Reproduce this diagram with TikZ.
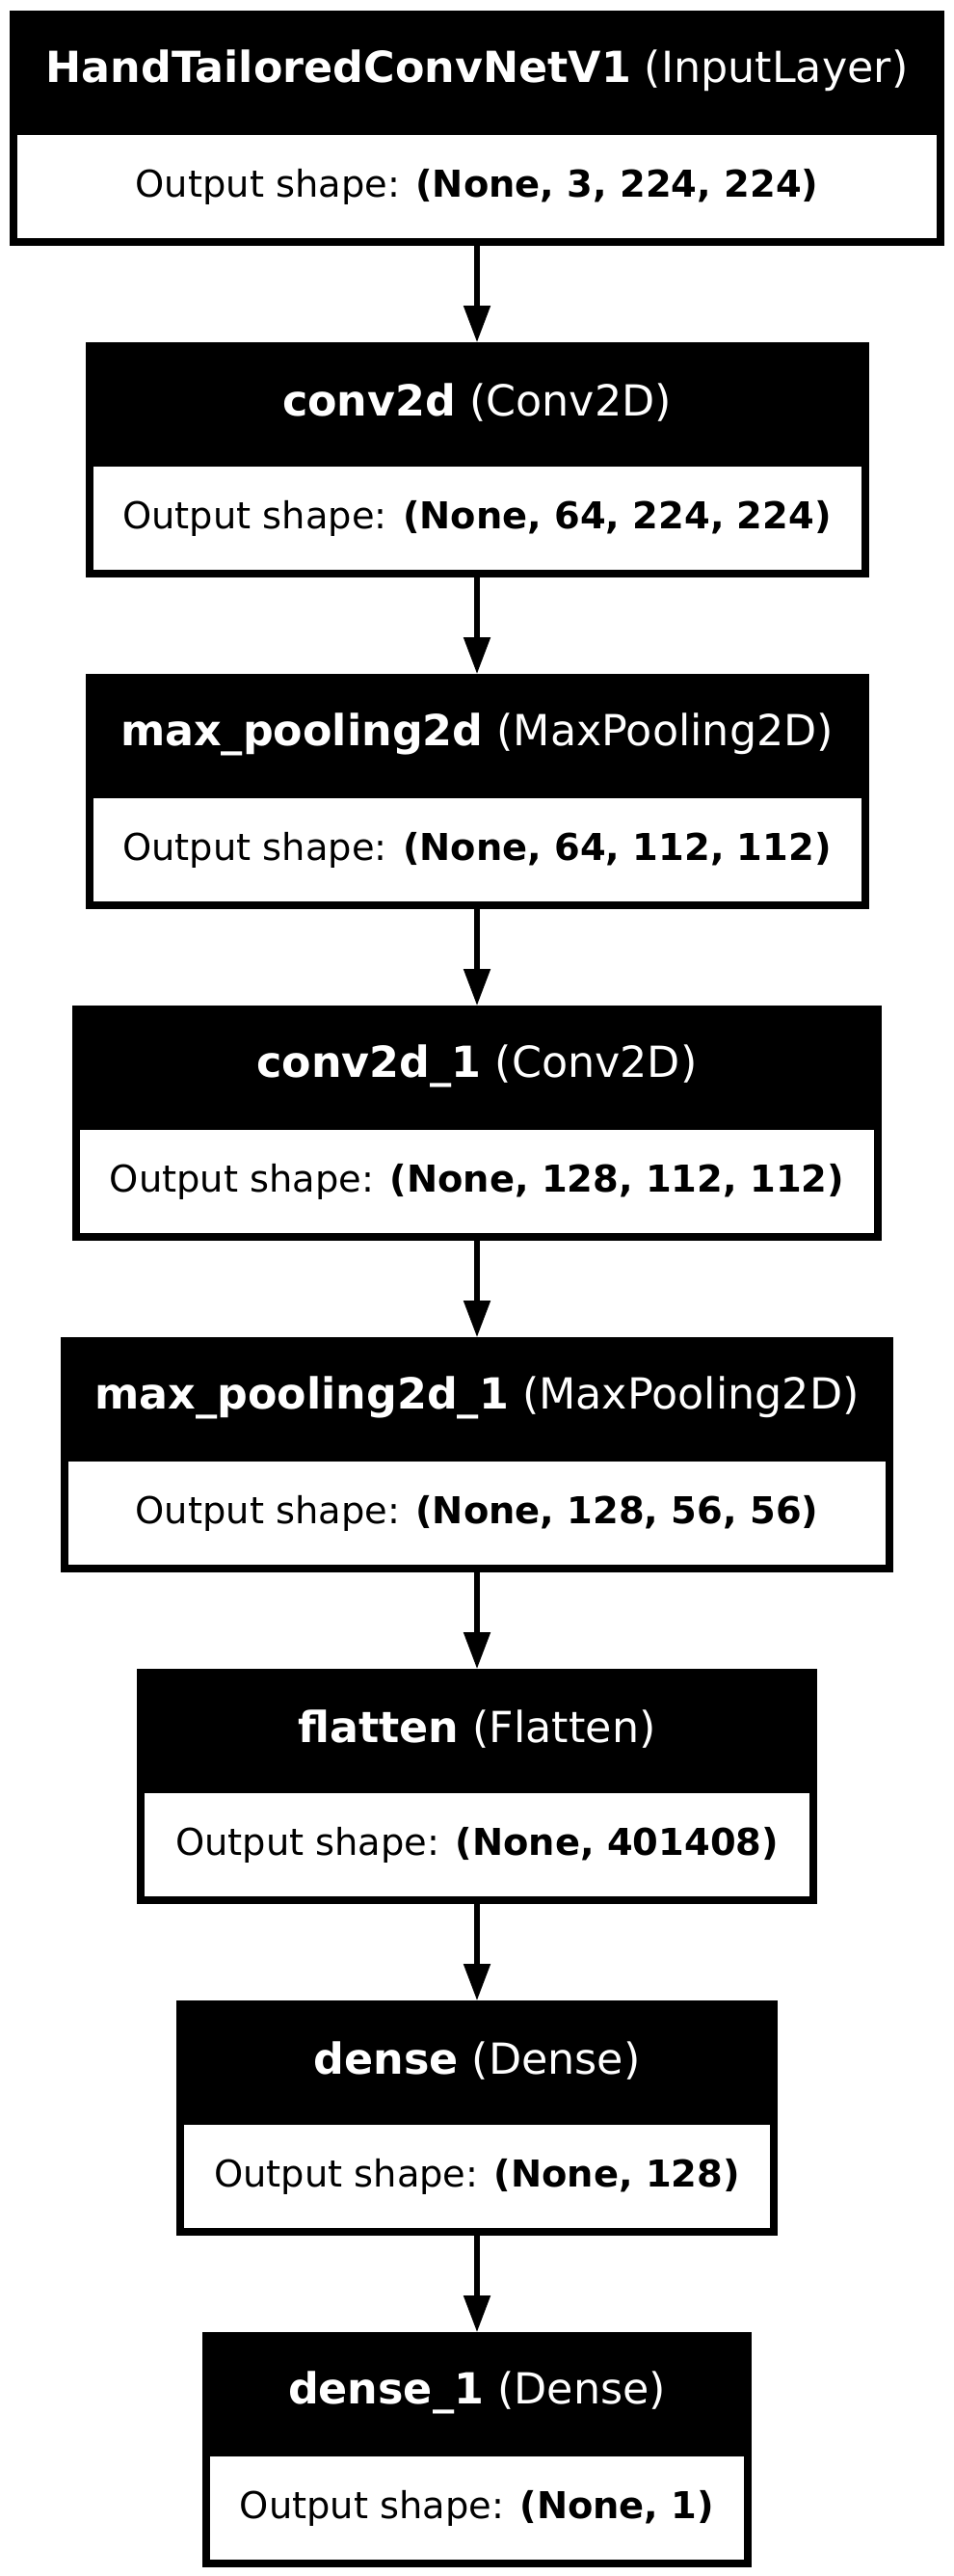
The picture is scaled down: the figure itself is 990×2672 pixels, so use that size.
\documentclass[tikz,border=0pt]{standalone}
\usepackage{fontspec}
\setmainfont{DejaVu Sans}
\usetikzlibrary{positioning,arrows.meta}

\tikzset{
  head/.style={fill=black,text=white,inner sep=0pt,outer sep=0pt,
    minimum height=62.5pt,anchor=north,font=\fontsize{22.2}{26}\selectfont},
  body/.style={fill=white,draw=black,line width=4pt,inner sep=0pt,outer sep=0pt,
    minimum height=57.5pt,font=\fontsize{19.2}{23}\selectfont},
  flow/.style={line width=2.6pt,-{Triangle[length=19pt,width=13.5pt]}},
}

\begin{document}
\begin{tikzpicture}[x=0.5pt,y=-0.5pt]
	  \useasboundingbox (0,0) rectangle (990,2672);
	  % layers, top to bottom
	  \node[head,minimum width=485pt] (h1) at (495,11) {\textbf{HandTailoredConvNetV1} (InputLayer)};
	  \node[body,minimum width=481pt,below=0pt of h1] (b1) {Output shape: \textbf{(None, 3, 224, 224)}};
	  \node[head,minimum width=406.5pt] (h2) at (495,355) {\textbf{conv2d} (Conv2D)};
	  \node[body,minimum width=402.5pt,below=0pt of h2] (b2) {Output shape: \textbf{(None, 64, 224, 224)}};
	  \node[head,minimum width=406.5pt] (h3) at (495,699) {\textbf{max\_pooling2d} (MaxPooling2D)};
	  \node[body,minimum width=402.5pt,below=0pt of h3] (b3) {Output shape: \textbf{(None, 64, 112, 112)}};
	  \node[head,minimum width=420pt] (h4) at (495,1043) {\textbf{conv2d\_1} (Conv2D)};
	  \node[body,minimum width=416pt,below=0pt of h4] (b4) {Output shape: \textbf{(None, 128, 112, 112)}};
	  \node[head,minimum width=432pt] (h5) at (495,1387) {\textbf{max\_pooling2d\_1} (MaxPooling2D)};
	  \node[body,minimum width=428pt,below=0pt of h5] (b5) {Output shape: \textbf{(None, 128, 56, 56)}};
	  \node[head,minimum width=353pt] (h6) at (495,1731) {\textbf{flatten} (Flatten)};
	  \node[body,minimum width=349pt,below=0pt of h6] (b6) {Output shape: \textbf{(None, 401408)}};
	  \node[head,minimum width=312pt] (h7) at (495,2075) {\textbf{dense} (Dense)};
	  \node[body,minimum width=308pt,below=0pt of h7] (b7) {Output shape: \textbf{(None, 128)}};
	  \node[head,minimum width=285pt] (h8) at (495,2419) {\textbf{dense\_1} (Dense)};
	  \node[body,minimum width=281pt,below=0pt of h8] (b8) {Output shape: \textbf{(None, 1)}};
	  % connections
	  \draw[flow] (b1) -- (h2);
	  \draw[flow] (b2) -- (h3);
	  \draw[flow] (b3) -- (h4);
	  \draw[flow] (b4) -- (h5);
	  \draw[flow] (b5) -- (h6);
	  \draw[flow] (b6) -- (h7);
	  \draw[flow] (b7) -- (h8);
\end{tikzpicture}
\end{document}
